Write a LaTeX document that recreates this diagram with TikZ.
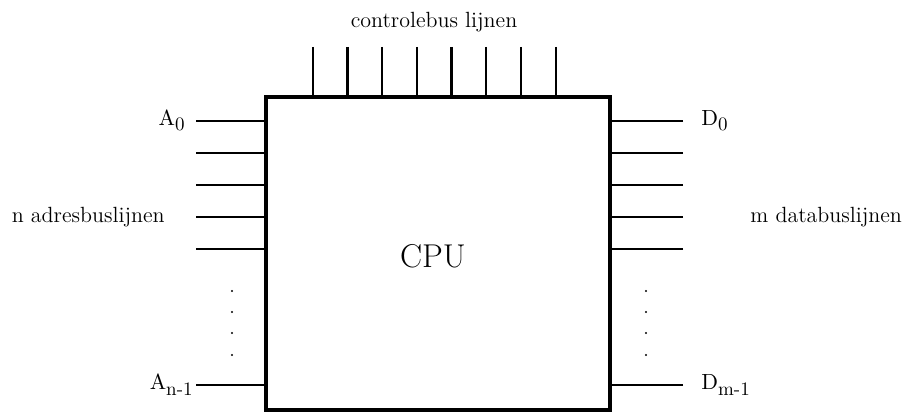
\documentclass[tikz,border=0pt]{standalone}
\usepackage{amsmath}
\usetikzlibrary{calc}

\newcommand{\pinsub}[1]{\text{\fontsize{9.5}{11}\selectfont #1}}

\begin{document}
\begin{tikzpicture}[
  x=0.5pt,
  y=0.5pt,
  chip/.style={
    draw=black,
    line width=2.2pt,
    minimum width=172pt,
    minimum height=156.5pt,
    inner sep=0pt
  },
  pin/.style={
    draw=black,
    line width=1.1pt
  },
  busdot/.style={
    fill=black
  },
  label/.style={
    font=\fontsize{11}{13}\selectfont,
    inner sep=0pt
  }
]

  % processor
  \node[chip] (cpu) at (438,163.5) {};
  \node[font=\fontsize{16.5}{19}\selectfont] (cputxt) at (433,161) {CPU};

  % adreslijnen links
  \foreach \y [count=\i] in {296,264,232,200,168} {
    \coordinate (a\i) at (196,\y);
    \draw[pin] (a\i) -- (a\i -| cpu.west);
  }
  \coordinate (an) at (196,32);
  \draw[pin] (an) -- (an -| cpu.west);

  % datalijnen rechts
  \foreach \y [count=\i] in {296,264,232,200,168} {
    \coordinate (d\i) at (683,\y);
    \draw[pin] (d\i) -- (d\i -| cpu.east);
  }
  \coordinate (dm) at (683,32);
  \draw[pin] (dm) -- (dm -| cpu.east);

  % controlelijnen boven
  \foreach \k in {0,...,7} {
    \coordinate (c\k) at ({312.7+34.7*\k},370);
    \draw[pin] (c\k) -- (c\k |- cpu.north);
  }

  % puntjes
  \foreach \y in {126,105,84,62} {
    \fill[busdot] (232,\y) circle[radius=1.2];
    \fill[busdot] (646,\y) circle[radius=1.2];
  }

  % teksten
  \node[label,left=5pt] (lA0) at (a1) {$\mathrm{A}_{\pinsub{0}}$};
  \node[label,left=1pt] (lAn) at (an) {$\mathrm{A}_{\pinsub{n-1}}$};
  \node[label,right=9pt] (lD0) at (d1) {$\mathrm{D}_{\pinsub{0}}$};
  \node[label,right=9pt] (lDm) at (dm) {$\mathrm{D}_{\pinsub{m-1}}$};
  \node[label,anchor=east] (ladres) at (165,200) {n adresbuslijnen};
  \node[label,anchor=west] (ldata) at (750,200) {m databuslijnen};
  \node[label] (lctrl) at (434,395) {controlebus lijnen};

  \path[use as bounding box]
    (0,0) rectangle (905,417);

\end{tikzpicture}
\end{document}
